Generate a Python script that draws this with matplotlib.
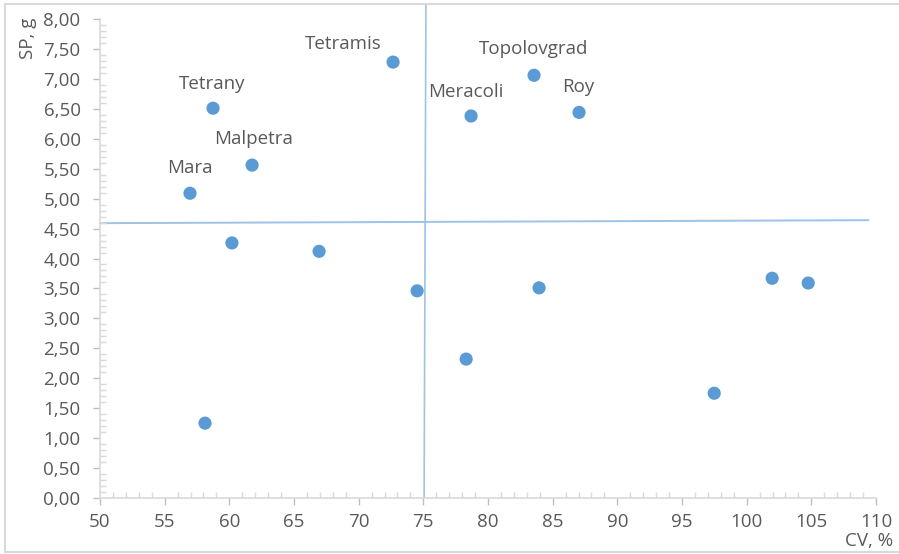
import matplotlib
matplotlib.use("Agg")
import matplotlib.pyplot as plt
from matplotlib.ticker import MultipleLocator, FuncFormatter
from matplotlib.lines import Line2D

# data
cv = [56.96, 58.74, 61.76, 72.66, 78.69, 83.56, 87.04,
      60.2, 66.94, 74.52, 78.31, 83.95, 97.49, 101.97, 104.76, 58.12]
sp = [5.09, 6.51, 5.56, 7.28, 6.38, 7.06, 6.44,
      4.26, 4.12, 3.46, 2.32, 3.51, 1.75, 3.67, 3.59, 1.25]
names = ["Mara", "Tetrany", "Malpetra", "Tetramis", "Meracoli", "Topolovgrad", "Roy"]

# quadrant dividers (mean lines)
vline_x = [75.2, 75.06]
vline_y = [8.23, 0.0]
hline_x = [50.0, 109.4]
hline_y = [4.59, 4.64]

# label offsets in pixels (dx, dy)
label_offsets = [(0, 25), (-1, 24), (1, 26), (-50, 18), (-5, 24), (0, 26), (-1, 25)]

text_col = "#595959"
axis_col = "#D9D9D9"
dot_col = "#5B9BD5"
line_col = "#9DC3E6"
fs = 13.5

plt.rcParams['font.family'] = ['Open Sans', 'DejaVu Sans']

fig = plt.figure(figsize=(8.99, 5.54), dpi=100)
ax = fig.add_axes([100 / 899, 56 / 554, 776 / 899, 479 / 554])

ax.plot(vline_x, vline_y, color=line_col, lw=1.2, clip_on=False, zorder=1)
ax.plot(hline_x, hline_y, color=line_col, lw=1.4, clip_on=False, zorder=1)

ax.scatter(cv, sp, s=90, color=dot_col, edgecolors='none', zorder=3)

for i, name in enumerate(names):
    dx, dy = label_offsets[i]
    ax.annotate(name, (cv[i], sp[i]), xytext=(dx, dy), textcoords='offset pixels',
                ha='center', va='center', fontsize=fs, color=text_col)

ax.set_xlim(50, 110)
ax.set_ylim(0, 8)
ax.xaxis.set_major_locator(MultipleLocator(5))
ax.xaxis.set_minor_locator(MultipleLocator(1))
ax.yaxis.set_major_locator(MultipleLocator(0.5))
ax.yaxis.set_minor_locator(MultipleLocator(0.1))
ax.yaxis.set_major_formatter(FuncFormatter(lambda v, p: f"{v:.2f}".replace('.', ',')))

for side in ['top', 'right']:
    ax.spines[side].set_visible(False)
for side in ['left', 'bottom']:
    ax.spines[side].set_color(axis_col)
    ax.spines[side].set_linewidth(1.2)

ax.tick_params(which='major', direction='out', length=5, width=1, color='#BFBFBF',
               labelcolor=text_col, labelsize=fs)
ax.tick_params(axis='y', which='major', pad=9)
ax.tick_params(axis='x', which='major', pad=6)
ax.tick_params(which='minor', direction='in', length=4, width=1, color=axis_col)

fig.text(28 / 899, 1 - 38 / 554, "SP, g", rotation=90, ha='center', va='center',
         fontsize=fs, color=text_col)
fig.text(893 / 899, 1 - 541 / 554, "CV, %", ha='right', va='center',
         fontsize=fs, color=text_col)

# outer chart frame (right side cropped off in the reference)
fig.add_artist(Line2D([5 / 899, 5 / 899], [2 / 554, 1 - 4 / 554], transform=fig.transFigure,
                      color=axis_col, lw=1.5))
fig.add_artist(Line2D([5 / 899, 1], [1 - 4 / 554, 1 - 4 / 554], transform=fig.transFigure,
                      color=axis_col, lw=1.5))
fig.add_artist(Line2D([5 / 899, 1], [2 / 554, 2 / 554], transform=fig.transFigure,
                      color=axis_col, lw=1.5))

fig.savefig("out.png", dpi=100)
